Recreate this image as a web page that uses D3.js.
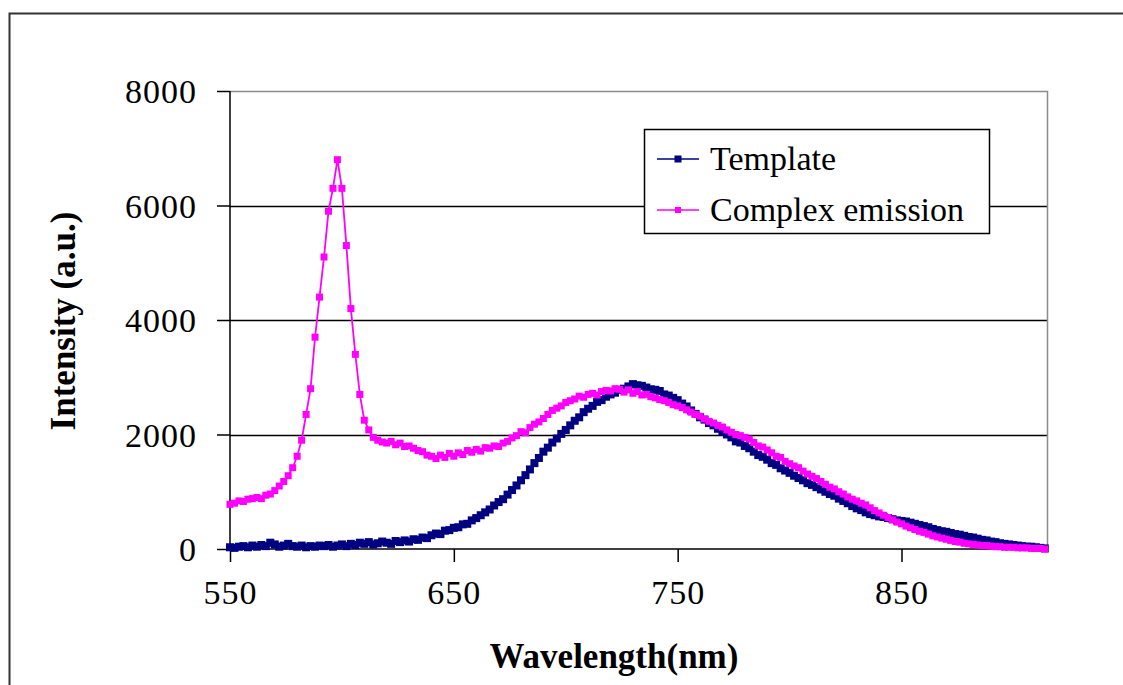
<!DOCTYPE html>
<html>
<head>
<meta charset="utf-8">
<script src="https://cdn.jsdelivr.net/npm/d3@7"></script>
<style>
  html, body { margin: 0; padding: 0; background: #fff; }
  svg { display: block; }
  text { font-family: "Liberation Serif", "Times New Roman", serif; fill: #000; }
</style>
</head>
<body>
<svg id="chart" width="1123" height="685"></svg>
<script>
// ---------------- data ----------------
const wavelengths = [
  550,552,554,556,558,560,562,564,566,568,570,572,574,576,578,580,582,584,586,588,
  590,592,594,596,598,600,602,604,606,608,610,612,614,616,618,620,622,624,626,628,
  630,632,634,636,638,640,642,644,646,648,650,652,654,656,658,660,662,664,666,668,
  670,672,674,676,678,680,682,684,686,688,690,692,694,696,698,700,702,704,706,708,
  710,712,714,716,718,720,722,724,726,728,730,732,734,736,738,740,742,744,746,748,
  750,752,754,756,758,760,762,764,766,768,770,772,774,776,778,780,782,784,786,788,
  790,792,794,796,798,800,802,804,806,808,810,812,814,816,818,820,822,824,826,828,
  830,832,834,836,838,840,842,844,846,848,850,852,854,856,858,860,862,864,866,868,
  870,872,874,876,878,880,882,884,886,888,890,892,894,896,898,900,902,904,906,908,
  910,912,914
];
const templateValues = [
  30,20,40,50,30,60,40,70,50,110,80,40,60,90,50,40,60,30,50,40,
  60,50,70,40,60,80,50,90,70,110,90,120,80,100,130,110,90,140,120,150,
  130,170,160,200,190,240,270,260,320,330,370,380,430,440,500,540,590,640,690,760,
  820,870,950,1030,1110,1200,1290,1390,1500,1590,1700,1770,1860,1930,2010,2080,2160,2240,2300,2390,
  2450,2500,2570,2600,2660,2700,2730,2780,2800,2840,2880,2860,2850,2820,2790,2780,2760,2700,2680,2640,
  2600,2540,2490,2420,2360,2300,2260,2200,2160,2100,2050,2000,1950,1880,1860,1800,1760,1700,1640,1610,
  1560,1500,1470,1410,1370,1330,1280,1240,1200,1150,1120,1080,1040,1000,960,930,880,840,800,750,
  710,680,640,610,590,570,560,540,520,500,490,480,460,440,420,400,380,350,330,310,
  300,280,260,250,230,210,200,180,160,150,130,120,100,90,80,70,60,50,40,40,
  30,20,10
];
const complexValues = [
  780,800,840,830,870,880,900,880,940,960,1020,1100,1180,1280,1420,1620,1900,2350,2800,3700,
  4400,5100,5900,6300,6800,6300,5300,4200,3400,2700,2250,2080,1950,1900,1870,1850,1880,1820,1850,1790,
  1800,1760,1720,1700,1640,1620,1580,1640,1600,1670,1620,1680,1650,1720,1690,1740,1710,1770,1760,1800,
  1790,1850,1880,1940,1980,2050,2030,2120,2180,2220,2280,2350,2420,2460,2500,2560,2590,2620,2670,2650,
  2700,2720,2690,2750,2770,2760,2800,2790,2740,2780,2720,2750,2690,2700,2660,2640,2610,2590,2560,2520,
  2500,2470,2430,2390,2350,2320,2270,2230,2200,2160,2130,2080,2040,2000,1980,1950,1920,1860,1800,1780,
  1730,1680,1620,1600,1530,1490,1450,1420,1360,1310,1270,1230,1180,1130,1080,1050,1000,960,910,870,
  840,800,770,720,670,630,590,550,510,470,440,400,370,340,310,290,260,230,210,190,
  170,150,130,120,100,90,80,70,60,60,50,40,40,30,30,30,20,20,20,10,
  10,10,0
];
const seriesNames = ["Template", "Complex emission"];
const seriesColors = ["#000080", "#FF00FF"];
const xTicks = [550, 650, 750, 850];
const yTicks = [0, 2000, 4000, 6000, 8000];
const xDomain = [550, 915];
const yDomain = [0, 8000];
const xTitle = "Wavelength(nm)";
const yTitle = "Intensity (a.u.)";

// ---------------- layout ----------------
const svg = d3.select("#chart");
const plot = { left: 230, top: 91, right: 1047, bottom: 549 };

// outer frame
svg.append("rect")
  .attr("x", 9.5).attr("y", 13.5).attr("width", 1200).attr("height", 800)
  .attr("fill", "#fff").attr("stroke", "#333").attr("stroke-width", 2);

const x = d3.scaleLinear().domain(xDomain).range([plot.left, plot.right]);
const y = d3.scaleLinear().domain(yDomain).range([plot.bottom, plot.top]);

// gridlines
svg.append("g").selectAll("line")
  .data(yTicks.filter(v => v > 0 && v < yDomain[1]))
  .join("line")
  .attr("x1", plot.left).attr("x2", plot.right)
  .attr("y1", d => Math.round(y(d)) + 0.5).attr("y2", d => Math.round(y(d)) + 0.5)
  .attr("stroke", "#000").attr("stroke-width", 1.3);

// plot-area border (top & right, gray)
svg.append("path")
  .attr("d", `M${plot.left},${plot.top + 0.5}H${plot.right + 0.5}V${plot.bottom}`)
  .attr("fill", "none").attr("stroke", "#8c8c8c").attr("stroke-width", 1.5);

// axes
const yAxis = d3.axisLeft(y).tickValues(yTicks).tickSize(13).tickPadding(20).tickFormat(d3.format("d"));
const yg = svg.append("g").attr("transform", `translate(${plot.left},0)`).call(yAxis);
const xAxis = d3.axisBottom(x).tickValues(xTicks).tickSize(13).tickPadding(18).tickFormat(d3.format("d"));
const xg = svg.append("g").attr("transform", `translate(0,${plot.bottom})`).call(xAxis);
[yg, xg].forEach(g => {
  g.select(".domain").attr("stroke", "#000").attr("stroke-width", 1.5);
  g.selectAll(".tick line").attr("stroke", "#000").attr("stroke-width", 1.5);
  g.selectAll(".tick text")
    .style("font-family", '"Liberation Serif", serif')
    .style("font-size", "34px").attr("fill", "#000")
    .style("letter-spacing", "1px");
});
yg.select(".domain").attr("d", `M0,${plot.top}V${plot.bottom}`);
xg.select(".domain").attr("d", `M${plot.left},0H${plot.right}`);
yg.selectAll(".tick text").attr("dy", "0.34em");
xg.selectAll(".tick text").attr("dy", "0.71em");

// axis titles
svg.append("text")
  .attr("x", 614).attr("y", 668)
  .attr("text-anchor", "middle")
  .style("font-size", "35px").style("font-weight", "bold")
  .text(xTitle);
svg.append("text")
  .attr("transform", "translate(75,321) rotate(-90)")
  .attr("text-anchor", "middle")
  .style("font-size", "35px").style("font-weight", "bold")
  .text(yTitle);

// series
const allSeries = [templateValues, complexValues].map((vals, i) => ({
  name: seriesNames[i],
  color: seriesColors[i],
  points: wavelengths.map((w, j) => ({ w, v: vals[j] }))
}));
const line = d3.line().x(d => x(d.w)).y(d => y(d.v));
const mSize = [8, 7];
allSeries.forEach((s, i) => {
  const g = svg.append("g");
  g.append("path").datum(s.points)
    .attr("d", line).attr("fill", "none")
    .attr("stroke", s.color).attr("stroke-width", 1.8);
  g.selectAll("rect").data(s.points).join("rect")
    .attr("x", d => x(d.w) - mSize[i] / 2)
    .attr("y", d => y(d.v) - mSize[i] / 2)
    .attr("width", mSize[i]).attr("height", mSize[i])
    .attr("fill", s.color);
});

// legend
const lg = svg.append("g");
lg.append("rect")
  .attr("x", 644.5).attr("y", 129.5).attr("width", 345).attr("height", 104)
  .attr("fill", "#fff").attr("stroke", "#000").attr("stroke-width", 1.5);
const legendRows = [159, 210];
const legendMarker = [7, 6];
allSeries.forEach((s, i) => {
  const ly = legendRows[i];
  lg.append("line")
    .attr("x1", 657).attr("x2", 699).attr("y1", ly).attr("y2", ly)
    .attr("stroke", s.color).attr("stroke-width", 1.5);
  lg.append("rect")
    .attr("x", 678 - legendMarker[i] / 2).attr("y", ly - legendMarker[i] / 2)
    .attr("width", legendMarker[i]).attr("height", legendMarker[i])
    .attr("fill", s.color);
  lg.append("text")
    .attr("x", 710).attr("y", ly + 11)
    .style("font-size", "34px")
    .text(s.name);
});
</script>
</body>
</html>
